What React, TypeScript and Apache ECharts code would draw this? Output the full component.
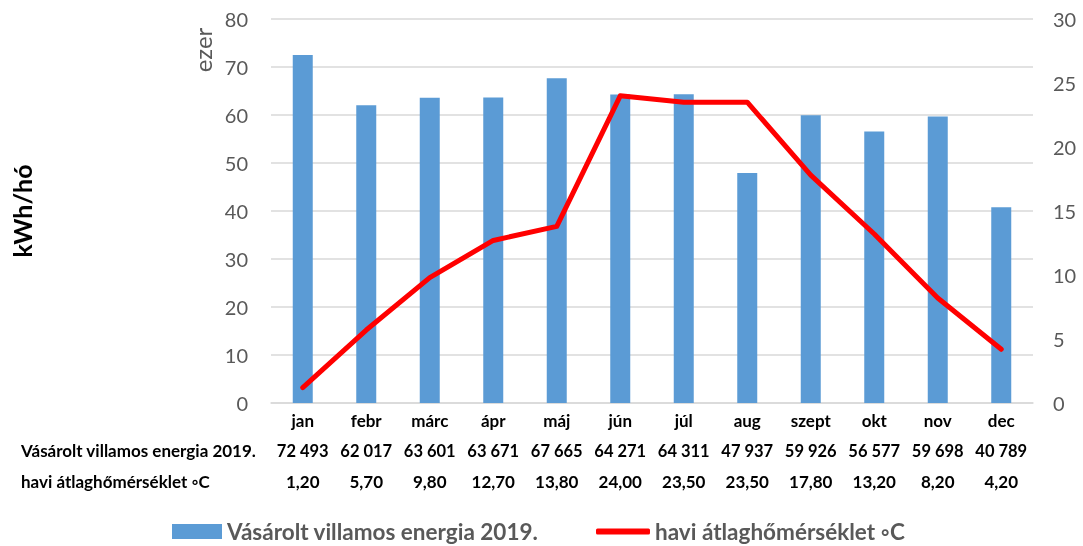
import React, { useEffect, useRef } from "react";
import * as echarts from "echarts";

const months = ["jan", "febr", "márc", "ápr", "máj", "jún", "júl", "aug", "szept", "okt", "nov", "dec"];
const energy = [72493, 62017, 63601, 63671, 67665, 64271, 64311, 47937, 59926, 56577, 59698, 40789];
const temperature = [1.2, 5.7, 9.8, 12.7, 13.8, 24.0, 23.5, 23.5, 17.8, 13.2, 8.2, 4.2];
const leftTicks = { min: 0, max: 80, interval: 10 };
const rightTicks = { min: 0, max: 30, interval: 5 };

const energyName = "Vásárolt villamos energia 2019.";
const tempName = "havi átlaghőmérséklet ◦C";

const FONT = "Lato, 'Noto Sans', sans-serif";

const fmtEnergy = (v: number) => String(v).replace(/\B(?=(\d{3})+(?!\d))/g, " ");
const fmtTemp = (v: number) => v.toFixed(2).replace(".", ",");

export default function App() {
  const ref = useRef<HTMLDivElement>(null);
  useEffect(() => {
    if (!ref.current) return;
    const chart = echarts.init(ref.current, undefined, { renderer: "svg" });
    const legendText = { color: "#595959", fontSize: 22.5, fontWeight: "bold", fontFamily: FONT };
    chart.setOption({
      animation: false,
      textStyle: { fontFamily: FONT },
      grid: { left: 271, right: 50, top: 19, bottom: 143, containLabel: false, outerBoundsMode: "none" },
      legend: [
        {
          left: 172,
          top: 520,
          padding: 0,
          itemWidth: 50,
          itemHeight: 15,
          icon: "rect",
          data: [energyName],
          textStyle: legendText,
        },
        {
          left: 596,
          top: 520,
          padding: 0,
          itemWidth: 54,
          itemHeight: 6,
          icon: "roundRect",
          data: [tempName],
          textStyle: legendText,
        },
      ],
      xAxis: {
        type: "category",
        data: months,
        axisLine: { lineStyle: { color: "#D9D9D9", width: 1.5 } },
        axisTick: { show: false },
        axisLabel: {
          interval: 0,
          margin: 2,
          formatter: (val: string, idx: number) =>
            `{m|${val}}\n{e|${fmtEnergy(energy[idx])}}\n{t|${fmtTemp(temperature[idx])}}`,
          rich: {
            m: { fontSize: 17, fontWeight: "bold", color: "#000", lineHeight: 31, fontFamily: FONT },
            e: { fontSize: 16.5, fontWeight: "bold", color: "#000", lineHeight: 30, fontFamily: FONT },
            t: { fontSize: 17, fontWeight: "bold", color: "#000", lineHeight: 31, fontFamily: FONT },
          },
        },
      },
      yAxis: [
        {
          type: "value",
          ...leftTicks,
          name: "kWh/hó",
          nameLocation: "middle",
          nameRotate: 90,
          nameGap: 237,
          nameTextStyle: { fontSize: 25, fontWeight: "bold", color: "#000", fontFamily: FONT },
          axisLine: { show: false },
          axisTick: { show: false },
          axisLabel: { color: "#595959", fontSize: 20, margin: 23, fontFamily: FONT },
          splitLine: { lineStyle: { color: "#D9D9D9", width: 1.5 } },
        },
        {
          type: "value",
          ...rightTicks,
          axisLine: { show: false },
          axisTick: { show: false },
          axisLabel: { color: "#595959", fontSize: 20, margin: 20, fontFamily: FONT },
          splitLine: { show: false },
        },
      ],
      graphic: [
        {
          type: "text",
          x: 202,
          y: 50,
          rotation: Math.PI / 2,
          style: {
            text: "ezer",
            fill: "#595959",
            fontSize: 24,
            fontFamily: FONT,
            align: "center",
            verticalAlign: "middle",
          },
        },
        {
          type: "text",
          x: 21,
          y: 450,
          style: {
            text: energyName,
            fill: "#000",
            fontSize: 17,
            fontWeight: "bold",
            fontFamily: FONT,
            verticalAlign: "middle",
          },
        },
        {
          type: "text",
          x: 21,
          y: 481,
          style: {
            text: tempName,
            fill: "#000",
            fontSize: 17,
            fontWeight: "bold",
            fontFamily: FONT,
            verticalAlign: "middle",
          },
        },
      ],
      series: [
        {
          name: energyName,
          type: "bar",
          yAxisIndex: 0,
          barWidth: 20,
          data: energy.map((v) => v / 1000),
          itemStyle: { color: "#5B9BD5" },
        },
        {
          name: tempName,
          type: "line",
          yAxisIndex: 1,
          data: temperature,
          showSymbol: false,
          symbol: "none",
          lineStyle: { color: "#FF0000", width: 5, cap: "round", join: "round" },
          itemStyle: { color: "#FF0000" },
        },
      ],
    });
    return () => chart.dispose();
  }, []);
  return <div ref={ref} style={{ position: "fixed", left: 0, top: 0, width: 1083, height: 546 }} />;
}
